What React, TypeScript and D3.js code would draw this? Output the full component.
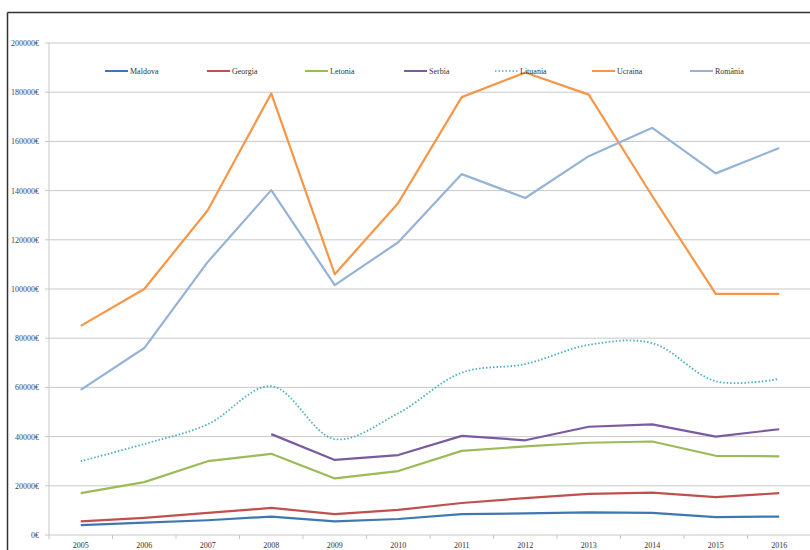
import React from "react";
import * as d3 from "d3";

const years = ["2005","2006","2007","2008","2009","2010","2011","2012","2013","2014","2015","2016"];
const yTicks = [0,20000,40000,60000,80000,100000,120000,140000,160000,180000,200000];

const moldova = [4000,5000,6000,7500,5500,6500,8500,8800,9200,9000,7300,7500];
const georgia = [5500,7000,9000,11000,8500,10200,13000,15000,16700,17200,15400,17000];
const letonia = [17000,21500,30000,33000,23000,26000,34200,36000,37500,38000,32200,32000];
const serbia: (number|null)[] = [null,null,null,41000,30500,32500,40300,38500,44000,45000,40000,43000];
const lituania = [30000,37000,45000,60500,39000,49500,66000,69500,77300,78000,62500,63400];
const ucraina = [85000,100000,132000,179500,106000,135000,178000,188000,179000,137800,98000,98000];
const romania = [59000,76000,111000,140200,101600,119000,146700,137000,154000,165500,147000,157300];

const seriesNames = ["Maldova","Georgia","Letonia","Serbia","Lituania","Ucraina","România"];
const seriesValues = [moldova, georgia, letonia, serbia, lituania, ucraina, romania];
const seriesColors = ["#3F78B0","#C0504D","#9BBB59","#7A5C9E","#4BACC6","#F79646","#95B3D7"];
const legendX = [105,207,305,404,495,592,690];

export default function App() {
  const W = 810, H = 550;
  const left = 49, right = 811, top = 43, bottom = 535;
  const x = d3.scaleBand<string>().domain(years).range([left, right]);
  const y = d3.scaleLinear().domain([0, 200000]).range([bottom, top]);
  const cx = (i: number) => (x(years[i]) as number) + x.bandwidth() / 2;
  const font = "'Liberation Serif', serif";

  return (
    <svg width={W} height={H} style={{ position: "absolute", left: 0, top: 0, background: "#fff" }}>
      <rect x={0} y={0} width={W} height={H} fill="#fff" />
      {/* frame */}
      <line x1={7.5} y1={12.5} x2={W} y2={12.5} stroke="#333" strokeWidth={1.5} />
      <line x1={7.5} y1={12.5} x2={7.5} y2={H} stroke="#333" strokeWidth={1.5} />
      {/* gridlines */}
      {yTicks.map((t) => (
        <g key={t}>
          <line x1={left - 4} x2={right} y1={y(t)} y2={y(t)} stroke="#C8C8C8" strokeWidth={1} />
          <text x={39} y={y(t) + 3} fontSize={8} fontFamily={font} fill="#444" textAnchor="end">
            {t}€
          </text>
        </g>
      ))}
      <line x1={left} x2={left} y1={top} y2={bottom} stroke="#C8C8C8" strokeWidth={1} />
      {years.map((yr, i) => (
        <g key={yr}>
          <line x1={x(yr) as number} x2={x(yr) as number} y1={bottom} y2={bottom + 4} stroke="#C8C8C8" />
          <text x={cx(i)} y={548} fontSize={8} fontFamily={font} fill="#333" textAnchor="middle">{yr}</text>
        </g>
      ))}
      {/* series */}
      {seriesValues.map((vals, si) => {
        const pts = vals.map((v, i) => [cx(i), v] as [number, number | null]);
        const gen = d3.line<[number, number | null]>()
          .defined((d) => d[1] !== null)
          .x((d) => d[0])
          .y((d) => y(d[1] as number));
        if (si === 4) gen.curve(d3.curveCatmullRom.alpha(0.5));
        return (
          <path key={si} d={gen(pts) || ""} fill="none" stroke={seriesColors[si]}
            strokeWidth={si === 4 ? 1.8 : 2.2}
            strokeDasharray={si === 4 ? "1.5 2" : undefined} strokeLinejoin="round" />
        );
      })}
      {/* legend */}
      {seriesNames.map((n, i) => (
        <g key={n}>
          <line x1={legendX[i]} x2={legendX[i] + 23} y1={71} y2={71} stroke={seriesColors[i]}
            strokeWidth={i === 4 ? 1.5 : 2} strokeDasharray={i === 4 ? "1.5 2" : undefined} />
          <text x={legendX[i] + 25} y={74} fontSize={8} fontFamily={font} fill="#333">{n}</text>
        </g>
      ))}
    </svg>
  );
}
